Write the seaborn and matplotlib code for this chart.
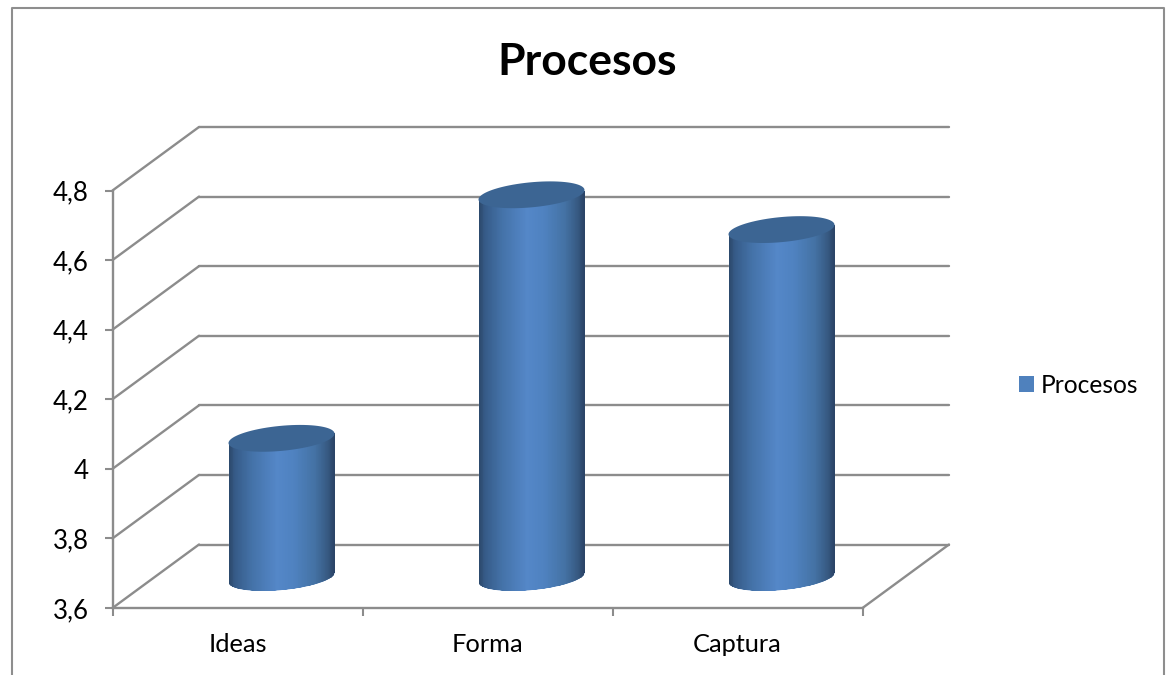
import numpy as np
import pandas as pd
import seaborn as sns
import matplotlib
matplotlib.use("Agg")
import matplotlib.pyplot as plt
from matplotlib.colors import LinearSegmentedColormap
from matplotlib.lines import Line2D
from matplotlib.patches import Patch, Polygon
from matplotlib.path import Path
from matplotlib.transforms import Affine2D

# Chart data
categorias = ["Ideas", "Forma", "Captura"]
valores = [4.0, 4.7, 4.6]
serie = "Procesos"
marcas_y = [3.6, 3.8, 4.0, 4.2, 4.4, 4.6, 4.8]
etiquetas_y = ["3,6", "3,8", "4", "4,2", "4,4", "4,6", "4,8"]

# Figure geometry, in pixels at 100 dpi
W, H = 1168, 675
AX_L, AX_R, AX_T, AX_B = 112.5, 862.5, 190.5, 608.0
DEPTH_X, DEPTH_Y = 86.5, 63.5      # offset of the back wall
MID_X, MID_Y = 44.0, 30.5          # offset of the cylinder axis
TILT = np.deg2rad(5.4)             # tilt of the cylinder caps
CAP_B = 12.5                       # semi-minor axis of the caps
GRID = "#8c8c8c"
FRAME = "#8e8e8e"
BASE = "#4f81bd"
CAP = "#3c6593"

sns.set_theme(style="white")
plt.rcParams["font.family"] = ["Lato", "DejaVu Sans"]

fig = plt.figure(figsize=(W / 100, H / 100), dpi=100, facecolor="white")
ax = fig.add_axes([AX_L / W, 1 - AX_B / H, (AX_R - AX_L) / W, (AX_B - AX_T) / H])
ax.patch.set_visible(False)

df = pd.DataFrame({"categoria": categorias, "valor": valores})
sns.barplot(data=df, x="categoria", y="valor", color=BASE, saturation=1,
            width=0.424, ax=ax, zorder=3)

xlim = (-0.5, len(categorias) - 0.5)
ylim = (marcas_y[0], marcas_y[-1])
ax.set_xlim(xlim)
ax.set_ylim(ylim)

px_x = (AX_R - AX_L) / (xlim[1] - xlim[0])
px_y = (AX_B - AX_T) / (ylim[1] - ylim[0])

back = ax.transData + Affine2D().translate(DEPTH_X, DEPTH_Y)
middle = ax.transData + Affine2D().translate(MID_X, MID_Y)

# Back wall and side wall gridlines
grid_style = dict(color=GRID, lw=1.7, clip_on=False, zorder=1,
                  solid_capstyle="round")
for v in marcas_y:
    ax.plot(xlim, [v, v], transform=back, **grid_style)
    p0 = ax.transData.transform((xlim[0], v))
    ax.plot([p0[0], p0[0] + DEPTH_X], [p0[1], p0[1] + DEPTH_Y],
            transform=None, **grid_style)

# Floor edge on the right
p1 = ax.transData.transform((xlim[1], ylim[0]))
ax.plot([p1[0], p1[0] + DEPTH_X], [p1[1], p1[1] + DEPTH_Y],
        transform=None, **grid_style)

shade = LinearSegmentedColormap.from_list(
    "cilindro",
    [(0.00, "#2b4769"), (0.06, "#365b88"), (0.22, "#4472a8"), (0.46, "#5487c8"),
     (0.62, "#4f82c0"), (0.82, "#4472a4"), (0.94, "#375a83"), (1.00, "#2a4467")],
)


def cap_points(cx, v, start, stop, a):
    """Points along a tilted cap ellipse, in data units."""
    t = np.linspace(start, stop, 80)
    ex, ey = a * np.cos(t), CAP_B * np.sin(t)
    dx = ex * np.cos(TILT) - ey * np.sin(TILT)
    dy = ex * np.sin(TILT) + ey * np.cos(TILT)
    return np.column_stack([cx + dx / px_x, v + dy / px_y])


for bar, valor in zip(ax.patches, valores):
    cx = bar.get_x() + bar.get_width() / 2
    half = bar.get_width() / 2 * px_x
    a = half / np.cos(TILT)

    # Cylinder wall: lower half of the base, closed under the top cap
    lower = cap_points(cx, ylim[0], np.pi, 2 * np.pi, a)
    upper = cap_points(cx, valor, 2 * np.pi, np.pi, a)[[0, -1]]
    body = Path(np.vstack([lower, upper, lower[:1]]), closed=True)

    bar.set_transform(middle)
    bar.set_clip_path(body, middle)
    bar.set_clip_on(True)

    edges = np.linspace(cx - bar.get_width() / 2, cx + bar.get_width() / 2, 130)
    tones = np.linspace(0, 1, 129)[None, :]
    mesh = ax.pcolormesh(edges, [ylim[0] - 0.1, valor + 0.1], tones, cmap=shade,
                         vmin=0, vmax=1, transform=middle, zorder=3.2)
    mesh.set_clip_path(body, middle)

    # Top cap
    cap = cap_points(cx, valor, 0, 2 * np.pi, a)
    ax.add_patch(Polygon(cap, closed=True, facecolor=CAP, edgecolor="none",
                         transform=middle, clip_on=False, zorder=3.4))

ax.set_xlim(xlim)
ax.set_ylim(ylim)

# Axes: category ticks sit between the groups, labels at their centres
for side in ("top", "right"):
    ax.spines[side].set_visible(False)
for side in ("left", "bottom"):
    ax.spines[side].set_color(GRID)
    ax.spines[side].set_linewidth(1.7)
    ax.spines[side].set_visible(True)

ax.set_xlabel("")
ax.set_ylabel("")
ax.set_yticks(marcas_y, etiquetas_y)
ax.set_xticks(np.arange(len(categorias) + 1) - 0.5, [""] * (len(categorias) + 1))
ax.set_xticks(np.arange(len(categorias)), categorias, minor=True)
ax.tick_params(axis="x", which="major", length=5.5, width=1.5, color=GRID,
               bottom=True, left=False)
ax.tick_params(axis="x", which="minor", length=0, pad=18, labelsize=18.3,
               labelcolor="black", bottom=True)
ax.tick_params(axis="y", which="major", length=5.5, width=1.5, color=GRID,
               left=True, pad=11.5, labelsize=18.6, labelcolor="black")

# Title, legend and chart frame
fig.text(587.5 / W, 1 - 62 / H, serie, ha="center", va="center", fontsize=32,
         fontweight="bold", color="black")
fig.legend(handles=[Patch(facecolor=BASE, edgecolor="none", label=serie)],
           loc="center left", bbox_to_anchor=(1002 / W, 1 - 385 / H),
           frameon=False, fontsize=17.7, handlelength=0.61, handleheight=0.61,
           handletextpad=0.26, borderpad=0.2, labelcolor="black")

fx = [11.5 / W, 11.5 / W, 1163.5 / W, 1163.5 / W]
fy = [0, 1 - 8 / H, 1 - 8 / H, 0]
fig.add_artist(Line2D(fx, fy, color=FRAME, lw=1.5, transform=fig.transFigure))

fig.savefig("out.png", dpi=100, facecolor="white")
